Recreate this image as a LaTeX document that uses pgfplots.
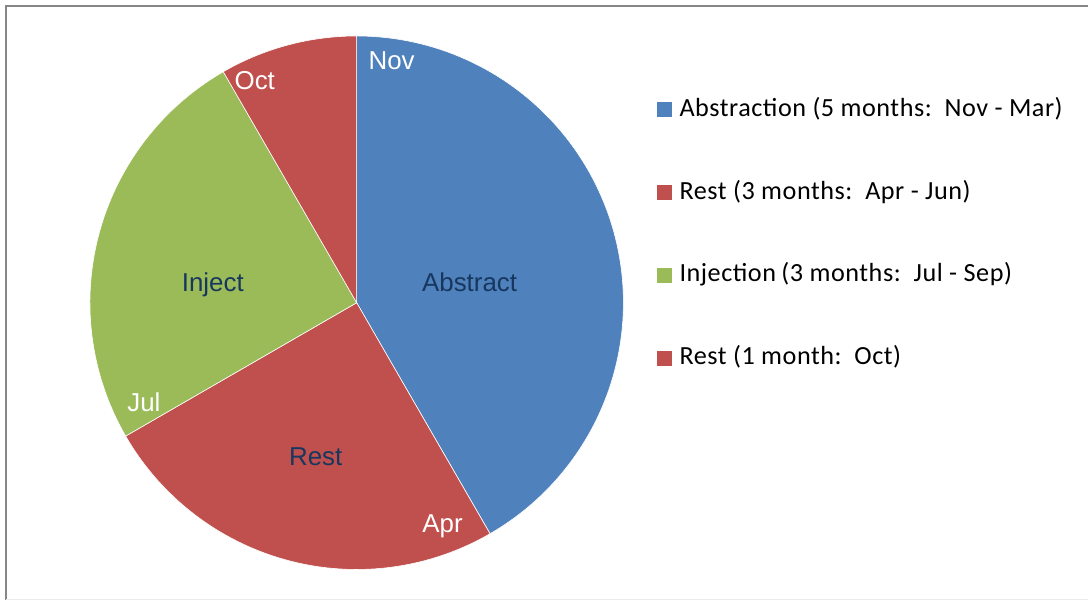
\documentclass[border=0pt]{standalone}
\usepackage{pgfplots}
\pgfplotsset{compat=1.18}
\usepackage{fontspec}
\setmainfont{Liberation Sans}
\newfontfamily\calibri[LetterSpace=2.0]{Carlito}
\definecolor{pblue}{HTML}{4F81BD}
\definecolor{pred}{HTML}{C0504D}
\definecolor{pgreen}{HTML}{9BBB59}
\definecolor{lblue}{HTML}{17375E}
\definecolor{frame}{HTML}{868686}
\begin{document}
\begin{tikzpicture}
\begin{axis}[
  width=1089bp, height=601bp, scale only axis,
  xmin=0, xmax=1089, ymin=0, ymax=601, y dir=reverse,
  hide axis, clip=false,
  legend cell align=left,
  legend image code/.code={\fill[#1,draw=none] (0bp,-7.5bp) rectangle (15bp,7.5bp);},
  legend style={draw=none, fill=none, at={(axis cs:654,94)}, anchor=north west,
    font=\calibri\fontsize{26.3}{30}\selectfont, row sep=56bp,
    nodes={text height=20bp, text depth=7bp, inner sep=0pt, inner xsep=8bp}},
]
% months per phase: 5 (Nov-Mar), 3 (Apr-Jun), 3 (Jul-Sep), 1 (Oct); 30 degrees per month, clockwise from top
\addplot[fill=pblue, draw=white, line width=0.6bp, domain=90:-60, samples=100, variable=\t]
  ({357+267*cos(t)},{303-267*sin(t)}) -- (357,303) -- cycle;
\addlegendentry{Abstraction (5 months:\ \ Nov - Mar)}
\addplot[fill=pred, draw=white, line width=0.6bp, domain=-60:-150, samples=60, variable=\t]
  ({357+267*cos(t)},{303-267*sin(t)}) -- (357,303) -- cycle;
\addlegendentry{Rest (3 months:\ \ Apr - Jun)}
\addplot[fill=pgreen, draw=white, line width=0.6bp, domain=-150:-240, samples=60, variable=\t]
  ({357+267*cos(t)},{303-267*sin(t)}) -- (357,303) -- cycle;
\addlegendentry{Injection\kern-1bp{} (3 months:\ \ Jul - Sep)}
\addplot[fill=pred, draw=white, line width=0.6bp, domain=-240:-270, samples=30, variable=\t]
  ({357+267*cos(t)},{303-267*sin(t)}) -- (357,303) -- cycle;
\addlegendentry{Rest (1 month:\ \ Oct)}

\path (0,0) rectangle (1089,601);
\draw[frame, line width=2bp] (6.5,601) -- (6.5,6.5) -- (1089,6.5);
\draw[black!8, line width=1bp] (6.5,600.5) -- (1089,600.5);

\begin{scope}[every node/.style={font=\fontsize{26}{30}\selectfont, anchor=base, inner sep=0pt}]
\node[white] at (392,70) {Nov};
\node[white] at (255,90) {Oct};
\node[white] at (144,412) {Jul};
\node[white] at (443,533) {Apr};
\node[lblue] at (470,292) {Abstract};
\node[lblue] at (213,292) {Inject};
\node[lblue] at (316,466) {Rest};
\end{scope}
\end{axis}
\end{tikzpicture}
\end{document}
